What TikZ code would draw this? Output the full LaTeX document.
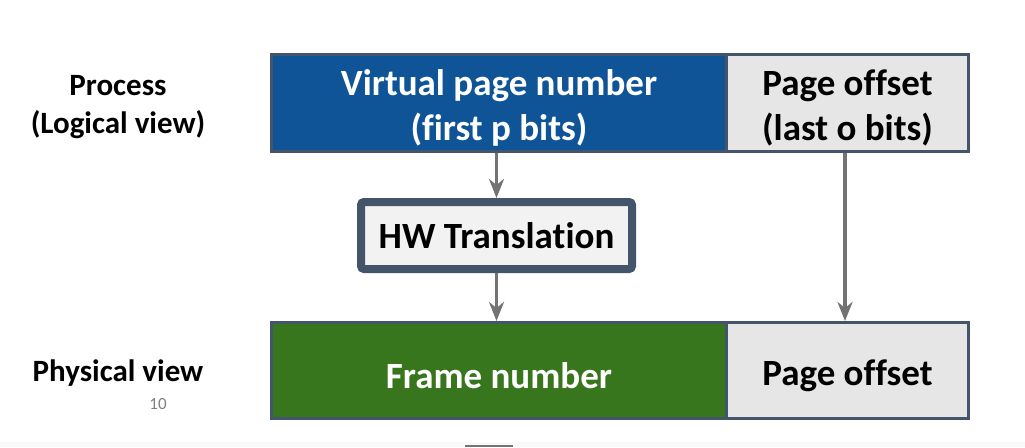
\documentclass[tikz,border=0pt]{standalone}
\usepackage{fontspec}
\setmainfont{Carlito}[Ligatures={NoCommon}]
\usetikzlibrary{arrows.meta}
\definecolor{frameborder}{HTML}{44546A}
\definecolor{vpnblue}{HTML}{0F5496}
\definecolor{pagegray}{HTML}{E6E6E6}
\definecolor{hwfill}{HTML}{F2F2F2}
\definecolor{framegreen}{HTML}{38761D}
\definecolor{arrowgray}{HTML}{737373}
\definecolor{stripgray}{HTML}{F8F9FB}
\newcommand{\lowerstrut}{\rule{0pt}{36pt}}
\tikzset{
  field/.style={draw=frameborder, line width=3pt, inner sep=0pt, align=center, font=\bfseries\fontsize{37}{45}\selectfont},
  sidelabel/.style={align=center, font=\bfseries\fontsize{31}{38}\selectfont, text=black},
  flow/.style={draw=arrowgray, line width=3.3pt, -{Stealth[length=19pt, width=15pt, inset=6pt]}},
}
\begin{document}
\begin{tikzpicture}[x=1pt, y=-1pt]
\useasboundingbox (0,0) rectangle (1025,447);
\fill[white] (0,0) rectangle (1025,447);
\fill[stripgray] (0,442) rectangle (1025,447);
\draw[arrowgray, line width=2pt] (465,446) -- (513,446);
% top row
\node[field, fill=vpnblue, text=white, minimum width=455pt, minimum height=97pt, anchor=north west] (vpn) at (270,53) {\lowerstrut Virtual page number\\(first p bits)};
\node[field, fill=pagegray, text=black, minimum width=242pt, minimum height=97pt, anchor=north west] (off1) at (725,53) {\lowerstrut Page offset\\(last o bits)};
% bottom row
\node[field, fill=framegreen, text=white, minimum width=455pt, minimum height=96pt, anchor=north west] (frame) at (270,321) {\lowerstrut Frame number};
\node[field, fill=pagegray, text=black, minimum width=242pt, minimum height=96pt, anchor=north west] (off2) at (725,321) {\lowerstrut Page offset};
% HW translation
\node[draw=frameborder, line width=8pt, fill=hwfill, rounded corners=3pt, minimum width=271pt, minimum height=67pt, inner sep=0pt, font=\bfseries\fontsize{37}{44}\selectfont] (hw) at (496.5,235.5) {HW Translation};
% arrows
\draw[flow] (vpn.south -| hw.north) -- (hw.north);
\draw[flow] (hw.south) -- (hw.south |- frame.north);
\draw[flow] (off1.south -| 845,0) -- (off2.north -| 845,0);
% side labels
\node[sidelabel] (proc) at (118,107) {Process\\(Logical view)};
\node[sidelabel] (phys) at (118,373) {Physical view};
\node[text=gray, font=\fontsize{17}{20}\selectfont] (pnum) at (158,404) {10};
\end{tikzpicture}
\end{document}
